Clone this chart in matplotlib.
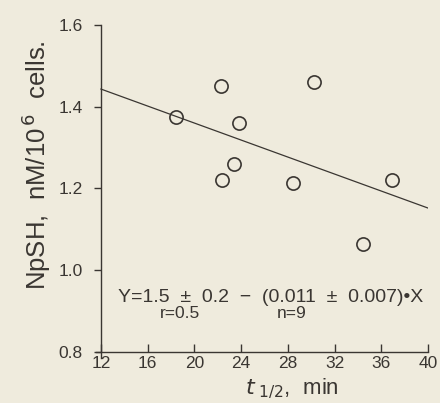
import numpy as np
import matplotlib
matplotlib.use("Agg")
import matplotlib.pyplot as plt

# half-time of reaction (min) vs non-protein SH per 10^6 cells
t_half = [18.4, 22.3, 23.8, 23.4, 22.4, 28.4, 30.2, 36.9, 34.4]
npsh = [1.375, 1.45, 1.36, 1.26, 1.22, 1.213, 1.46, 1.22, 1.063]

# regression line as drawn
fit_a = 1.568
fit_b = -0.0104
fit_x = [12, 40]

x_ticks = [12, 16, 20, 24, 28, 32, 36, 40]
y_ticks = [0.8, 1.0, 1.2, 1.4, 1.6]

paper = "#efebdd"
ink = "#3a3632"

plt.rcParams['font.family'] = ['Liberation Sans', 'DejaVu Sans']

fig = plt.figure(figsize=(4.4, 4.03), dpi=100, facecolor=paper)
ax = fig.add_axes([96.3 / 440, 1 - 358 / 403, (428 - 96.3) / 440, (358 - 25) / 403])
ax.set_facecolor(paper)

fx = np.array(fit_x, dtype=float)
ax.plot(fx, fit_a + fit_b * fx, color=ink, lw=0.9)
ax.plot(t_half, npsh, 'o', ms=9.5, mfc='none', mec=ink, mew=1.2)

ax.set_xlim(11.6, 40)
ax.set_ylim(0.785, 1.6)
ax.spines['top'].set_visible(False)
ax.spines['right'].set_visible(False)
ax.spines['left'].set_position(('data', 12))
ax.spines['bottom'].set_position(('data', 0.8))
for s in ('left', 'bottom'):
    ax.spines[s].set_color(ink)
    ax.spines[s].set_linewidth(1.0)

ax.set_xticks(x_ticks)
ax.set_xticklabels([str(v) for v in x_ticks])
ax.set_yticks(y_ticks)
ax.set_yticklabels(['%.1f' % v for v in y_ticks])
ax.tick_params(axis='x', direction='in', length=6, width=1, colors=ink,
               labelsize=12.5, pad=3)
ax.tick_params(axis='y', direction='out', length=5, width=1, colors=ink,
               labelsize=12.5, pad=8)

fig.text(36 / 440, 1 - 165 / 403, 'NpSH,  nM/10$^{\\,6}$  cells.', rotation=90,
         ha='center', va='center', fontsize=18.5, color=ink)
fig.text(292 / 440, 1 - 401 / 403, r'$\mathit{t}_{\ 1/2}$,  min',
         ha='center', va='bottom', fontsize=16, color=ink)

fig.text(118 / 440, 1 - 297 / 403,
         'Y=1.5  \u00b1  0.2  \u2212  (0.011  \u00b1  0.007)\u2022X',
         ha='left', va='center', fontsize=14, color=ink)
fig.text(160 / 440, 1 - 314 / 403, 'r=0.5', ha='left', va='center',
         fontsize=12.5, color=ink)
fig.text(277 / 440, 1 - 314 / 403, 'n=9', ha='left', va='center',
         fontsize=12.5, color=ink)

fig.savefig('out.png', dpi=100, facecolor=paper)
